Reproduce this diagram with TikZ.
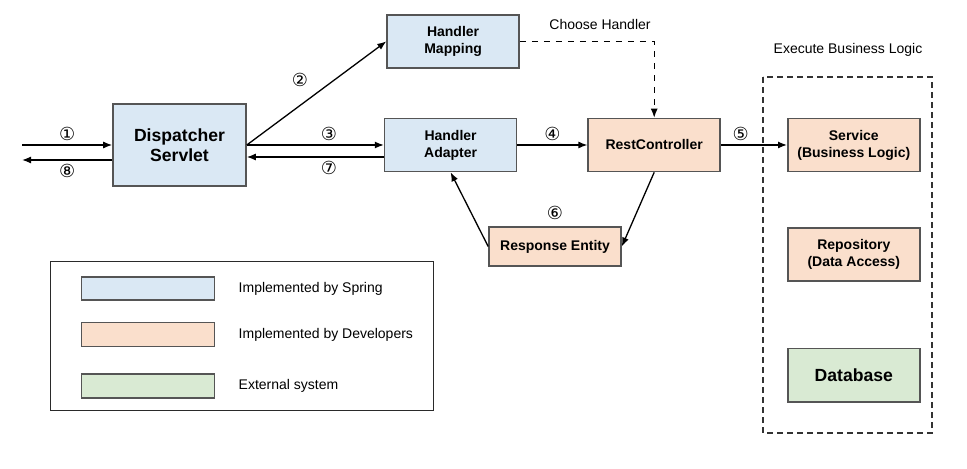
\documentclass[tikz,border=0pt]{standalone}
\usepackage{fontspec}
\setmainfont{Liberation Sans}
\newfontfamily\numfont{DejaVu Sans}
\usetikzlibrary{arrows.meta,positioning,calc}
\definecolor{springblue}{HTML}{DAE8F4}
\definecolor{devorange}{HTML}{FADFCC}
\definecolor{extgreen}{HTML}{D9EAD3}
\definecolor{boxgray}{HTML}{555555}
\tikzset{
  % Define standard arrow tip
  >={Latex[length=4.5pt,width=3.5pt]},
  % Define style for boxes
  box/.style={
    rectangle,
    draw=boxgray, line width=0.8pt,
    minimum width=66pt,
    minimum height=26.5pt,
    inner sep=1pt,
    align=center,
    font=\fontsize{7}{8.5}\selectfont\bfseries},
  spring/.style={box, fill=springblue},
  dev/.style={box, fill=devorange},
  ext/.style={box, fill=extgreen},
  % big bold text
  bigtxt/.style={font=\fontsize{8.8}{10}\selectfont\bfseries},
  % Define arrow style
  line/.style={draw, ->, line width=0.65pt},
  % step numbers
  num/.style={font=\fontsize{9}{10}\numfont, inner sep=0.5pt},
  % plain text
  txt/.style={font=\fontsize{7}{8}\selectfont, inner sep=0pt},
}

\begin{document}
\begin{tikzpicture}[x=0.5pt, y=-0.5pt, node distance=20pt]
  \useasboundingbox (0,0) rectangle (967,469);
  % nodes
  \node[spring, bigtxt, minimum width=66.5pt, minimum height=41pt] (disp) at (179.5,145) {Dispatcher\\Servlet};
  \node[spring, right=68.5pt of disp] (hadp) {Handler\\Adapter};
  \node[spring, above=24.5pt of hadp, xshift=1.25pt] (hmap) {Handler\\Mapping};
  \node[dev, right=35pt of hadp] (rest) {RestController};
  \node[dev, minimum height=19.5pt] (resp) at (555,246.5) {Response Entity};
  \node[dev, right=33pt of rest] (svc) {Service\\(Business Logic)};
  \node[dev, below=27.5pt of svc] (repo) {Repository\\(Data Access)};
  \node[ext, bigtxt, below=33pt of repo] (db) {Database};
  \node[txt] (choose) at (600,25) {Choose Handler};
  \node[txt] (exec) at (848,50) {Execute Business Logic};
  \draw[boxgray!60!black, line width=0.8pt, dash pattern=on 3pt off 2pt] (763,77) rectangle (932,433);
  % connectors
  \coordinate (in) at (22,145);
  \coordinate (out) at ([yshift=-7.5pt]in);
  \path[line] (in) -- node[num, above=1.5pt] {①} (disp.west);
  \path[line] ([yshift=-7.5pt]disp.west) -- node[num, below=1.5pt] {⑧} (out);
  \path[line] (disp.east) -- node[num, pos=0.45, above left=5pt and 0pt] {②} (hmap.west);
  \path[line] (disp.east) -- node[num, pos=0.6, above=1.5pt] {③} (hadp.west);
  \path[line] ([yshift=-6pt]hadp.west) -- node[num, pos=0.4, below=1.5pt] {⑦} ([yshift=-6pt]disp.east);
  \path[line] (hadp.east) -- node[num, above=1.5pt] {④} (rest.west);
  \path[line] (rest.east) -- node[num, pos=0.3, above=1.5pt] {⑤} (svc.west);
  \path[line, dashed] (hmap.east) -| (rest.north);
  \path[line] (rest.south) -- (resp.east);
  \path[line] (resp.west) -- (hadp.south);
  \node[num, above=2.5pt of resp] (six) {⑥};
  % legend
  \node[draw=boxgray!50!black, line width=0.5pt, minimum width=191.5pt, minimum height=74pt] (legend) at (241.5,336) {};
  \node[spring, minimum width=66.5pt, minimum height=11.5pt] (lspring) at (148,288.5) {};
  \node[dev, minimum width=66.5pt, minimum height=12pt, below=10.5pt of lspring] (ldev) {};
  \node[ext, minimum width=66.5pt, minimum height=12pt, below=13pt of ldev] (lext) {};
  \node[txt, right=11.5pt of lspring] (tspring) {Implemented by Spring};
  \node[txt, right=11.5pt of ldev] (tdev) {Implemented by Developers};
  \node[txt, right=11.5pt of lext] (text) {External system};
\end{tikzpicture}
\end{document}
